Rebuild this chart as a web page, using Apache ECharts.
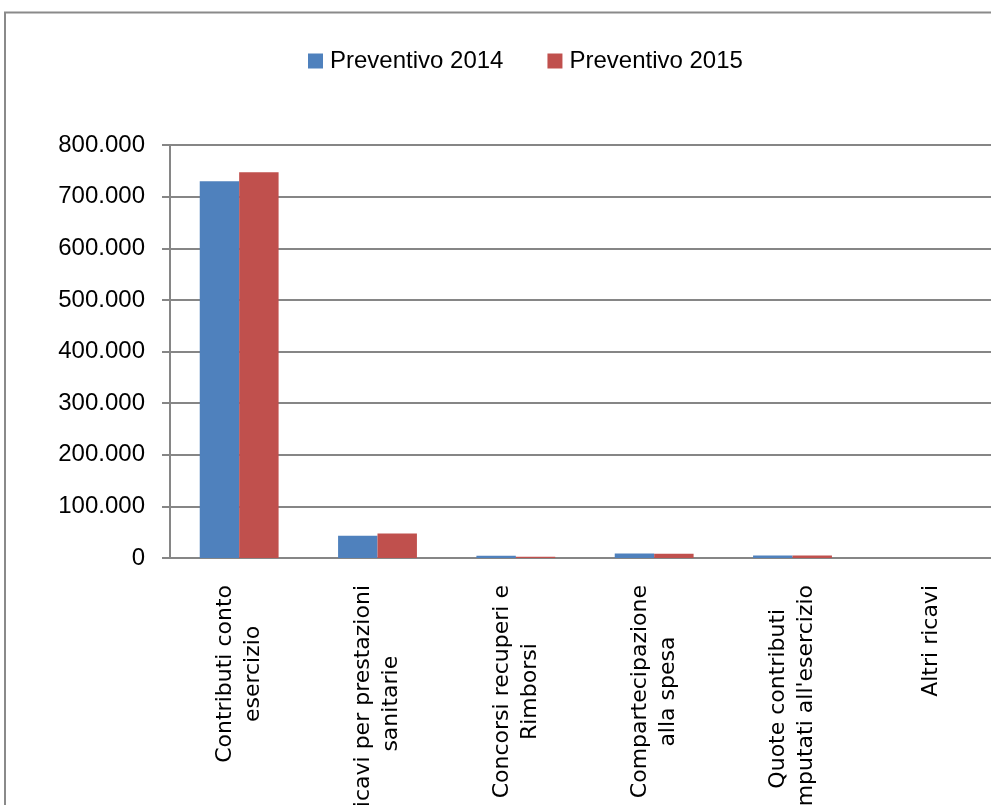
<!DOCTYPE html>
<html>
<head>
<meta charset="utf-8">
<script src="https://cdn.jsdelivr.net/npm/echarts@6/dist/echarts.min.js"></script>
<style>
html,body{margin:0;padding:0;overflow:hidden;background:#fff;}
#chart{width:1020px;height:805px;}
</style>
</head>
<body>
<div id="chart"></div>
<script>
var categories = ['Contributi conto\nesercizio', 'Ricavi per prestazioni\nsanitarie', 'Concorsi recuperi e\nRimborsi', 'Compartecipazione\nalla spesa', 'Quote contributi\nimputati all\'esercizio', 'Altri ricavi'];
var seriesNames = ['Preventivo 2014', 'Preventivo 2015'];
var prev2014 = [730000, 43000, 4500, 8500, 5000, 0];
var prev2015 = [747000, 47500, 2500, 8000, 5000, 0];
var yTicks = {min: 0, max: 800000, interval: 100000};

function fmt(v) {
  return String(v).replace(/\B(?=(\d{3})+(?!\d))/g, '.');
}

var chart = echarts.init(document.getElementById('chart'));
chart.setOption({
  animation: false,
  backgroundColor: '#fff',
  graphic: [{
    type: 'rect',
    shape: {x: 5, y: 12.5, width: 2000, height: 2000},
    style: {fill: 'none', stroke: '#8a8a8a', lineWidth: 2},
    silent: true
  }],
  legend: {
    left: 308,
    top: 49,
    padding: 0,
    itemWidth: 15,
    itemHeight: 15,
    itemGap: 44,
    icon: 'rect',
    textStyle: {fontFamily: 'Liberation Sans', fontSize: 24, color: '#000', padding: [0, 0, 0, 2]},
    data: seriesNames
  },
  grid: {left: 170, width: 830, top: 145, height: 413, containLabel: false, outerBoundsMode: 'none'},
  xAxis: {
    type: 'category',
    data: categories,
    axisLine: {lineStyle: {color: '#868686', width: 2}},
    axisTick: {length: 8, lineStyle: {color: '#868686', width: 2}},
    axisLabel: {
      rotate: 90,
      interval: 0,
      margin: 27,
      color: '#000',
      fontFamily: 'DejaVu Sans',
      fontSize: 22,
      lineHeight: 28,
      formatter: function (v) {
        return v.split('\n').map(function (l) { return '{c|' + l + '}'; }).join('\n');
      },
      rich: {c: {align: 'center', fontFamily: 'DejaVu Sans', fontSize: 22, lineHeight: 28, color: '#000'}}
    }
  },
  yAxis: {
    type: 'value',
    min: yTicks.min,
    max: yTicks.max,
    interval: yTicks.interval,
    axisLine: {show: true, lineStyle: {color: '#868686', width: 2}},
    axisTick: {show: true, length: 8, lineStyle: {color: '#868686', width: 2}},
    splitLine: {lineStyle: {color: '#868686', width: 2}},
    axisLabel: {
      margin: 25,
      color: '#000',
      fontFamily: 'Liberation Sans',
      fontSize: 24,
      formatter: fmt
    }
  },
  series: [{
    name: seriesNames[0],
    type: 'bar',
    data: prev2014,
    barGap: '0%',
    barCategoryGap: '43%',
    itemStyle: {color: '#4F81BD'}
  }, {
    name: seriesNames[1],
    type: 'bar',
    data: prev2015,
    barGap: '0%',
    barCategoryGap: '43%',
    itemStyle: {color: '#C0504D'}
  }]
});
</script>
</body>
</html>
